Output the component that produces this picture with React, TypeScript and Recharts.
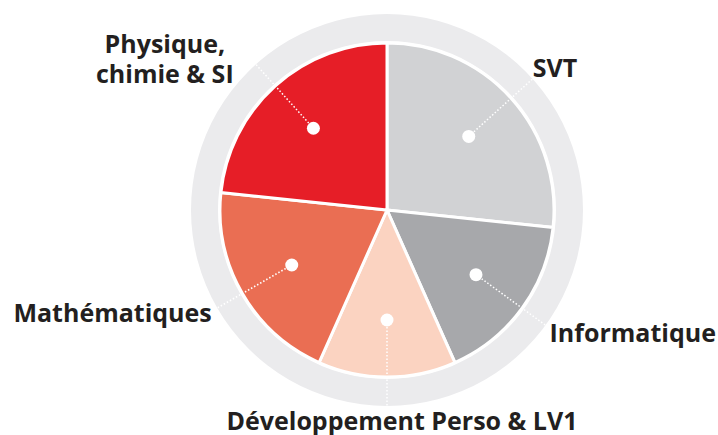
import React from "react"
import { Pie, PieChart } from "recharts"

// matières, dans l'ordre horaire à partir de midi
const subjects = [
  "SVT",
  "Informatique",
  "Développement Perso & LV1",
  "Mathématiques",
  "Physique,\nchimie & SI",
]
const hours = [8, 5, 4, 6, 7]

const COLORS = ["#D1D2D4", "#A7A8AB", "#FBD3C1", "#EA6E53", "#E61E27"]
const RING = "#EBEBED"
const INK = "#231F20"

const CX = 387
const CY = 210
const PIE_R = 167
const RING_IN = 169
const RING_OUT = 196
const DOT_R = 110
const LINE_H = 30

// placement of each label relative to the end of its leader line
const LABEL_LAYOUT: Record<string, { dx: number; dy: number; anchor: "start" | "middle" | "end" }> = {
  SVT: { dx: 0, dy: -2, anchor: "start" },
  Informatique: { dx: 4, dy: 16.5, anchor: "start" },
  "Développement Perso & LV1": { dx: 15, dy: 24, anchor: "middle" },
  Mathématiques: { dx: -5.5, dy: 13.7, anchor: "end" },
  "Physique,\nchimie & SI": { dx: -91, dy: 19, anchor: "middle" },
}

const data = subjects.map((name, i) => ({ name, value: hours[i], fill: COLORS[i] }))
const ringData = [{ name: "ring", value: 1, fill: RING }]

const RAD = Math.PI / 180

function renderLabel(props: any) {
  const { cx, cy, midAngle, name } = props
  const cos = Math.cos(-midAngle * RAD)
  const sin = Math.sin(-midAngle * RAD)
  const dx = cx + DOT_R * cos
  const dy = cy + DOT_R * sin
  const ex = cx + RING_OUT * cos
  const ey = cy + RING_OUT * sin
  const layout = LABEL_LAYOUT[name] || { dx: 0, dy: 0, anchor: "middle" }
  const lines = String(name).split("\n")
  const tx = ex + layout.dx
  const ty = ey + layout.dy - (lines.length - 1) * LINE_H
  return (
    <g>
      <line
        x1={dx}
        y1={dy}
        x2={ex}
        y2={ey}
        stroke="#FFFFFF"
        strokeWidth={1.5}
        strokeDasharray="1.5 2"
      />
      <circle cx={dx} cy={dy} r={6.5} fill="#FFFFFF" />
      <text
        x={tx}
        y={ty}
        textAnchor={layout.anchor}
        fill={INK}
        fontFamily="'Open Sans', sans-serif"
        fontWeight={700}
        fontSize={25}
      >
        {lines.map((l, i) => (
          <tspan key={i} x={tx} dy={i === 0 ? 0 : LINE_H}>
            {l}
          </tspan>
        ))}
      </text>
    </g>
  )
}

export default function App() {
  return (
    <div style={{ position: "absolute", left: 0, top: 0 }}>
      <PieChart width={718} height={435} margin={{ top: 0, right: 0, bottom: 0, left: 0 }}>
        <Pie
          data={ringData}
          dataKey="value"
          cx={CX}
          cy={CY}
          innerRadius={RING_IN}
          outerRadius={RING_OUT}
          stroke="none"
          isAnimationActive={false}
        />
        <Pie
          data={data}
          dataKey="value"
          nameKey="name"
          cx={CX}
          cy={CY}
          outerRadius={PIE_R}
          startAngle={90}
          endAngle={-270}
          stroke="#FFFFFF"
          strokeWidth={3}
          label={renderLabel}
          labelLine={false}
          isAnimationActive={false}
        />
      </PieChart>
    </div>
  )
}
